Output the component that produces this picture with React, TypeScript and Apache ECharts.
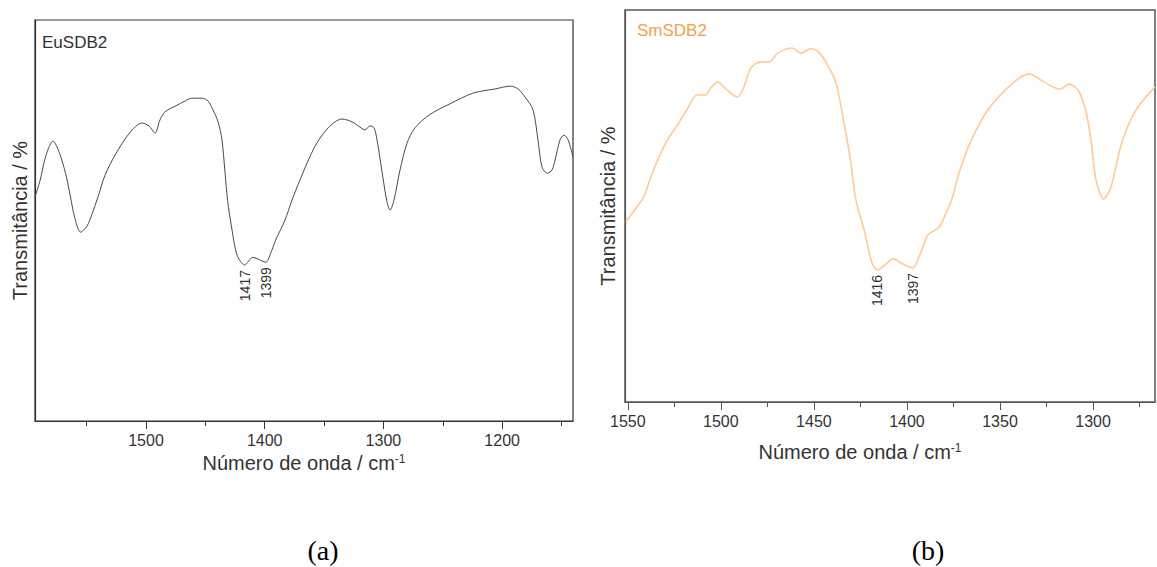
import { useEffect, useRef } from "react";
import * as echarts from "echarts";

const FONT = "'Liberation Sans', Arial, Helvetica, sans-serif";
const SERIF = "'Liberation Serif', 'Times New Roman', serif";

// EuSDB2 spectrum (wavenumber / cm-1, transmittance in arbitrary %)
const euWavenumber = [1593.5, 1589.3, 1584.2, 1578.3, 1572.9, 1567.8, 1563.6, 1560.2, 1555.1, 1549.7, 1545.5, 1540.4, 1534.5, 1526.1, 1513.9, 1503.4, 1497.5, 1492.4, 1488.2, 1484, 1474.7, 1467.1, 1461.2, 1452.8, 1447.8, 1443.6, 1439.3, 1436, 1431.3, 1427.5, 1423.3, 1417, 1409.9, 1399, 1395.5, 1390.8, 1382.9, 1377, 1370.3, 1358, 1346.6, 1334.9, 1326.4, 1318.8, 1315.5, 1311.3, 1307.9, 1305.4, 1302, 1297.3, 1294.4, 1291.1, 1286, 1280.1, 1273.4, 1261.6, 1243.9, 1224.1, 1206, 1193, 1186.6, 1180.7, 1174, 1169.8, 1166.4, 1161.8, 1158, 1155.4, 1151.2, 1147.8, 1144.4, 1140.3];
const euTransmittance = [55.9, 59.9, 66.3, 69.8, 66.8, 61.8, 55.9, 50.9, 47.1, 48.6, 51.6, 55.9, 61.3, 66.3, 71.8, 74.3, 73.6, 71.8, 75.1, 77.1, 78.6, 79.8, 80.5, 80.5, 79.8, 77.6, 74.6, 70.1, 55.1, 47.6, 41.4, 38.9, 40.8, 39.6, 41.4, 45.1, 50.1, 55.1, 60.1, 68.3, 73.1, 75.3, 74.6, 73.1, 72.6, 73.6, 73.1, 70.1, 63.8, 55.1, 52.6, 55.1, 62.6, 69.3, 73.1, 76.3, 79.1, 81.8, 82.8, 83.5, 82.8, 80.8, 77.6, 70.1, 63.3, 61.8, 62.6, 65.1, 70.1, 71.3, 70.1, 65.8];

// SmSDB2 spectrum
const smWavenumber = [1551.1, 1545.2, 1541.4, 1536.6, 1529.6, 1522.6, 1517.7, 1512.9, 1508.1, 1505.4, 1501.6, 1496.8, 1491.1, 1487.6, 1483.9, 1479, 1474.2, 1469.4, 1461.6, 1457, 1451.8, 1446.9, 1442.1, 1438.2, 1434.4, 1430.6, 1427.4, 1422.6, 1418.8, 1416, 1411.9, 1407.5, 1402.2, 1397, 1393.5, 1388.7, 1382.8, 1379, 1376, 1372, 1366.1, 1356.5, 1343, 1334.4, 1326.3, 1317.7, 1312.9, 1308.1, 1304, 1301.1, 1298.4, 1294.3, 1290.4, 1284.6, 1276.9, 1266.7];
const smTransmittance = [46.0, 49.7, 52.3, 58.7, 66.1, 71.2, 75.0, 78.3, 78.3, 80.1, 81.6, 79.6, 77.8, 80.4, 85.2, 86.7, 86.7, 89.0, 90.3, 89.0, 90.1, 89.0, 85.5, 81.6, 72.7, 62.5, 51.5, 43.1, 35.5, 33.7, 34.9, 36.5, 35.2, 34.2, 37.0, 42.6, 44.6, 48.2, 51.5, 58.4, 66.1, 74.5, 81.4, 83.7, 81.6, 79.8, 81.1, 79.6, 74.5, 66.8, 56.6, 51.8, 54.8, 66.1, 74.5, 80.4];

// Axis ticks / labels
const euLabelValues = [1500, 1400, 1300, 1200];
const euMinorValues = [1550, 1450, 1350, 1250, 1150];
const smLabelValues = [1550, 1500, 1450, 1400, 1350, 1300];
const smMinorValues = [1525, 1475, 1425, 1375, 1325, 1275];

// Annotated minima
const euPeaks = [1417, 1399];
const euPeakT = [38.9, 39.6];
const smPeaks = [1416, 1397];
const smPeakT = [33.7, 34.2];

const xName = "{a|Número de onda / cm}{b|-1}";
const yName = "Transmitância / %";

export default function App() {
  const ref = useRef<HTMLDivElement>(null);

  useEffect(() => {
    const chart = echarts.init(ref.current!, null, { renderer: "svg" });

    const nameRich = {
      a: { fontSize: 20, fontFamily: FONT, color: "#333" },
      b: { fontSize: 12, fontFamily: FONT, color: "#333", verticalAlign: "top" },
    };

    const makeX = (gi: number, min: number, max: number, labels: number[], gap: number, pad: number[], col: string) => ({
      gridIndex: gi,
      type: "value",
      position: "bottom",
      inverse: true,
      min,
      max,
      axisLine: { show: true, lineStyle: { color: col, width: 1.2 } },
      axisTick: { show: true, inside: false, length: 8, customValues: labels, lineStyle: { color: col, width: 1 } },
      axisLabel: {
        customValues: labels,
        fontSize: 16,
        color: "#333",
        fontFamily: FONT,
        margin: 11,
        formatter: (v: number) => String(v),
      },
      splitLine: { show: false },
      name: xName,
      nameLocation: "middle",
      nameGap: gap,
      nameTextStyle: { rich: nameRich, padding: pad },
    });

    const makeMinorX = (gi: number, min: number, max: number, ticks: number[], col: string) => ({
      gridIndex: gi,
      type: "value",
      position: "bottom",
      inverse: true,
      min,
      max,
      axisLine: { show: false },
      axisTick: { show: true, inside: false, length: 5, customValues: ticks, lineStyle: { color: col, width: 1 } },
      axisLabel: { show: false },
      splitLine: { show: false },
    });

    const makeY = (gi: number, gap: number, col: string) => ({
      gridIndex: gi,
      type: "value",
      min: 0,
      max: 100,
      axisLine: { show: true, lineStyle: { color: col, width: 1.2 } },
      axisTick: { show: false },
      axisLabel: { show: false },
      splitLine: { show: false },
      name: yName,
      nameLocation: "middle",
      nameGap: gap,
      nameTextStyle: { fontSize: 20, fontFamily: FONT, color: "#333" },
    });

    chart.setOption({
      animation: false,
      backgroundColor: "#ffffff",
      grid: [
        { left: 35, top: 20, width: 538, height: 401, show: true, borderColor: "#333", borderWidth: 1.2, containLabel: false },
        { left: 625, top: 10, width: 530, height: 392, show: true, borderColor: "#555", borderWidth: 1.5, containLabel: false },
      ],
      xAxis: [
        makeX(0, 1140.3, 1593.5, euLabelValues, 29, [0, 0, 0, 0], "#333"),
        makeX(1, 1266.7, 1551.5, smLabelValues, 40, [0, 60, 0, 0], "#555"),
        makeMinorX(0, 1140.3, 1593.5, euMinorValues, "#333"),
        makeMinorX(1, 1266.7, 1551.5, smMinorValues, "#555"),
      ],
      yAxis: [makeY(0, 5, "#333"), makeY(1, 7, "#555")],
      series: [
        {
          name: "EuSDB2",
          type: "line",
          xAxisIndex: 0,
          yAxisIndex: 0,
          data: euWavenumber.map((w, i) => [w, euTransmittance[i]]),
          smooth: 0.3,
          showSymbol: false,
          lineStyle: { color: "#4a4a4a", width: 1 },
        },
        {
          name: "SmSDB2",
          type: "line",
          xAxisIndex: 1,
          yAxisIndex: 1,
          data: smWavenumber.map((w, i) => [w, smTransmittance[i]]),
          smooth: 0.3,
          showSymbol: false,
          lineStyle: { color: "#fdca98", width: 1.6 },
        },
      ],
    });

    const ann: any[] = [];
    const addAnn = (gi: number, wn: number[], t: number[]) => {
      wn.forEach((w, i) => {
        const p = chart.convertToPixel({ gridIndex: gi }, [w, t[i]]) as number[];
        ann.push({
          type: "text",
          x: p[0],
          y: p[1] + 5,
          rotation: Math.PI / 2,
          style: { text: String(w), fontSize: 14, fontFamily: FONT, fill: "#333", align: "right", verticalAlign: "middle" },
        });
      });
    };
    addAnn(0, euPeaks, euPeakT);
    addAnn(1, smPeaks, smPeakT);

    chart.setOption({
      graphic: [
        { type: "text", left: 42, top: 34, style: { text: "EuSDB2", fontSize: 17, fontFamily: FONT, fill: "#333" } },
        { type: "text", left: 637, top: 22, style: { text: "SmSDB2", fontSize: 17, fontFamily: FONT, fill: "#f7a04c" } },
        { type: "text", x: 323, y: 550, style: { text: "(a)", fontSize: 28, fontFamily: SERIF, fill: "#000", align: "center", verticalAlign: "middle" } },
        { type: "text", x: 928, y: 550, style: { text: "(b)", fontSize: 28, fontFamily: SERIF, fill: "#000", align: "center", verticalAlign: "middle" } },
        ...ann,
      ],
    });

    return () => chart.dispose();
  }, []);

  return <div ref={ref} style={{ position: "absolute", left: 0, top: 0, width: 1157, height: 567, background: "#fff" }} />;
}
